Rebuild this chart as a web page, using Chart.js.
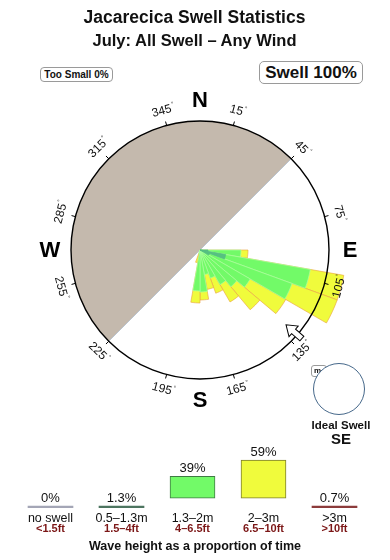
<!DOCTYPE html>
<html>
<head>
<meta charset="utf-8">
<script src="https://cdn.jsdelivr.net/npm/chart.js@4.4.1/dist/chart.umd.min.js"></script>
<style>
  body { margin: 0; width: 390px; height: 560px; position: relative; background: #fff; overflow: hidden;
         font-family: "Liberation Sans", Arial, sans-serif; color: #111; }
  canvas { position: absolute; left: 0; }
  #rosa { top: 0; }
  #leyenda { top: 438px; }
  .txt { position: absolute; white-space: nowrap; font-weight: bold; text-align: center; }
  #titulo { left: 0; width: 389px; top: 9px; font-size: 17.5px; line-height: 17px; }
  #subtitulo { left: 0; width: 389px; top: 33px; font-size: 16.5px; line-height: 15px; }
  .caja { position: absolute; border: 1px solid #9a9a9a; box-sizing: border-box; font-weight: bold; text-align: center; background: #fff; }
  #chico { left: 40px; top: 67px; width: 73px; height: 15px; border-radius: 4px; font-size: 10px; line-height: 13px; }
  #swell { left: 259px; top: 61px; width: 104px; height: 23px; border-radius: 5px; font-size: 17px; line-height: 21px; }
  #etiquetaM { left: 311px; top: 365px; width: 16px; height: 12px; border-radius: 3px; font-size: 8px; line-height: 10px; text-align: left; padding-left: 2px; }
  #ideal { position: absolute; left: 313px; top: 363px; width: 52px; height: 52px; box-sizing: border-box;
           border: 1px solid #46688a; border-radius: 50%; background: #fff; }
  #idealTxt { left: 291px; width: 100px; top: 419px; font-size: 11.5px; line-height: 12px; }
  #idealDir { left: 291px; width: 100px; top: 432px; font-size: 15px; line-height: 14px; }
</style>
</head>
<body>
<canvas id="rosa" width="390" height="560"></canvas>
<canvas id="leyenda" width="390" height="122"></canvas>
<div class="txt" id="titulo">Jacarecica Swell Statistics</div>
<div class="txt" id="subtitulo">July: All Swell – Any Wind</div>
<div class="caja" id="chico">Too Small 0%</div>
<div class="caja" id="swell">Swell 100%</div>
<div class="caja" id="etiquetaM">m</div>
<div id="ideal"></div>
<div class="txt" id="idealTxt">Ideal Swell</div>
<div class="txt" id="idealDir">SE</div>

<script>
// Rumbos de 10 grados (inicio de cada sector)
const rumbos = [0, 10, 20, 30, 40, 50, 60, 70, 80, 90, 100, 110, 120, 130, 140, 150, 160, 170,
                180, 190, 200, 210, 220, 230, 240, 250, 260, 270, 280, 290, 300, 310, 320, 330, 340, 350];
// Largo de cada banda de altura por rumbo
const banda05 = [0, 0, 0, 0, 0, 0, 0, 0, 0, 8, 26, 10, 0, 0, 0, 0, 0, 0,
                 0, 0, 0, 0, 0, 0, 0, 0, 0, 0, 0, 0, 0, 0, 0, 0, 0, 0];
const banda13 = [0, 0, 0, 0, 0, 0, 0, 0, 0, 33, 86, 88, 58, 48, 40, 30, 25, 42,
                 41, 4, 0, 0, 0, 0, 0, 0, 0, 0, 0, 0, 0, 0, 0, 0, 0, 0];
const banda2 = [0, 0, 0, 0, 0, 0, 0, 0, 0, 7, 34, 48, 41, 30, 20, 16, 15, 8,
                12, 9, 0, 0, 0, 0, 0, 0, 0, 0, 0, 0, 0, 0, 0, 0, 0, 0];
const borde = 129;          // radio del circulo de la rosa
const costa = [225, 45];    // sector de tierra
const marcasGrados = [15, 45, 75, 105, 135, 165, 195, 225, 255, 285, 315, 345];
const puntos = ['N', 'E', 'S', 'W'];
const rumboIdeal = 131;

// Leyenda inferior
const alturasM = ['no swell', '0.5–1.3m', '1.3–2m', '2–3m', '>3m'];
const alturasFt = ['<1.5ft', '1.5–4ft', '4–6.5ft', '6.5–10ft', '>10ft'];
const porcentajes = [0, 1.3, 39, 59, 0.7];

const fuente = '"Liberation Sans", Arial, sans-serif';
const rad = g => g * Math.PI / 180;

// acumulados para apilar las bandas
const acum1 = banda05;
const acum2 = banda05.map((v, i) => v + banda13[i]);
const acum3 = acum2.map((v, i) => v + banda2[i]);

const compas = {
    id: 'compas',
    beforeDatasetsDraw(chart) {
        const r = chart.scales.r, ctx = chart.ctx;
        const cx = r.xCenter, cy = r.yCenter, R = r.getDistanceFromCenterForValue(borde);
        ctx.save();
        ctx.beginPath();
        ctx.moveTo(cx, cy);
        ctx.arc(cx, cy, R, rad(costa[0] - 90), rad(costa[1] + 360 - 90));
        ctx.closePath();
        ctx.fillStyle = '#c4b9ad';
        ctx.fill();
        ctx.beginPath();
        ctx.moveTo(cx + R * Math.sin(rad(costa[0])), cy - R * Math.cos(rad(costa[0])));
        ctx.lineTo(cx + R * Math.sin(rad(costa[1])), cy - R * Math.cos(rad(costa[1])));
        ctx.strokeStyle = 'rgba(170,185,205,0.7)';
        ctx.lineWidth = 1;
        ctx.stroke();
        ctx.restore();
    },
    afterDatasetsDraw(chart) {
        const r = chart.scales.r, ctx = chart.ctx;
        const cx = r.xCenter, cy = r.yCenter, R = r.getDistanceFromCenterForValue(borde);
        const pt = (b, d) => [cx + d * Math.sin(rad(b)), cy - d * Math.cos(rad(b))];
        ctx.save();
        // circulo
        ctx.beginPath();
        ctx.arc(cx, cy, R, 0, Math.PI * 2);
        ctx.strokeStyle = '#000';
        ctx.lineWidth = 1.4;
        ctx.stroke();
        // marcas y grados
        ctx.lineWidth = 1;
        marcasGrados.forEach(b => {
            const a = pt(b, R), c = pt(b, R + 4);
            ctx.beginPath();
            ctx.moveTo(a[0], a[1]);
            ctx.lineTo(c[0], c[1]);
            ctx.stroke();
            let rot = b;
            if (b > 90 && b < 270) rot = b - 180;
            else if (b >= 270) rot = b - 360;
            const p = pt(b, R + 15);
            ctx.save();
            ctx.translate(p[0], p[1]);
            ctx.rotate(rad(rot));
            ctx.fillStyle = '#111';
            ctx.font = '12px ' + fuente;
            ctx.textAlign = 'center';
            ctx.textBaseline = 'middle';
            const txt = String(b);
            const w = ctx.measureText(txt).width;
            ctx.fillText(txt, -1, 0);
            ctx.font = '6px ' + fuente;
            ctx.textAlign = 'left';
            ctx.fillText('°', w / 2, -4);
            ctx.restore();
        });
        // puntos cardinales
        ctx.fillStyle = '#000';
        ctx.font = 'bold 22px ' + fuente;
        ctx.textAlign = 'center';
        ctx.textBaseline = 'middle';
        puntos.forEach((p, i) => {
            const q = pt(i * 90, R + 21);
            ctx.fillText(p, q[0], q[1] + 1);
        });
        // flecha del swell ideal
        const f = pt(rumboIdeal, R - 5);
        ctx.translate(f[0], f[1]);
        ctx.rotate(rad(rumboIdeal + 90));
        ctx.beginPath();
        ctx.moveTo(10, 0);
        ctx.lineTo(0, -7);
        ctx.lineTo(0, -3);
        ctx.lineTo(-11, -3);
        ctx.lineTo(-11, 3);
        ctx.lineTo(0, 3);
        ctx.lineTo(0, 7);
        ctx.closePath();
        ctx.fillStyle = '#fff';
        ctx.fill();
        ctx.strokeStyle = '#000';
        ctx.lineWidth = 1;
        ctx.stroke();
        ctx.restore();
    }
};

const anchoBorde = c => (c.raw > 0 ? 0.8 : 0);

new Chart(document.getElementById('rosa'), {
    type: 'polarArea',
    data: {
        labels: rumbos,
        datasets: [
            { label: '0.5–1.3m', data: acum1, backgroundColor: 'rgba(84,190,130,0.95)', borderColor: 'rgba(84,190,130,1)', borderWidth: anchoBorde },
            { label: '1.3–2m', data: acum2, backgroundColor: '#72fa68', borderColor: 'rgba(170,255,160,0.9)', borderWidth: anchoBorde },
            { label: '2–3m', data: acum3, backgroundColor: '#f0fb3c', borderColor: 'rgba(235,165,70,0.8)', borderWidth: anchoBorde }
        ]
    },
    options: {
        responsive: false,
        animation: false,
        events: [],
        layout: { padding: { left: 50, right: 40, top: 100, bottom: 160 } },
        plugins: { legend: { display: false }, tooltip: { enabled: false } },
        scales: {
            r: {
                min: 0, max: 150, startAngle: 0,
                ticks: { display: false },
                grid: { display: false },
                angleLines: { display: false },
                pointLabels: { display: false }
            }
        }
    },
    plugins: [compas]
});

// Leyenda de alturas
const pisoCaja = 12;
const coloresLeyenda = ['#a4a6b6', '#4d7560', '#72fa68', '#f0fb3c', '#8c3b3b'];
const bordesLeyenda = ['#a4a6b6', '#4d7560', '#3f7a44', '#7d7d2c', '#8c3b3b'];

const etiquetas = {
    id: 'etiquetas',
    afterDatasetsDraw(chart) {
        const ctx = chart.ctx, x = chart.scales.x, area = chart.chartArea;
        const barras = chart.getDatasetMeta(0).data;
        ctx.save();
        ctx.textAlign = 'center';
        ctx.textBaseline = 'alphabetic';
        porcentajes.forEach((v, i) => {
            const px = x.getPixelForValue(i);
            ctx.fillStyle = '#111';
            ctx.font = '13px ' + fuente;
            ctx.fillText(v + '%', px, barras[i].y - 4);
            ctx.font = '12.5px ' + fuente;
            ctx.fillText(alturasM[i], px, area.bottom + 14);
            ctx.fillStyle = '#7b1616';
            ctx.font = 'bold 11px ' + fuente;
            ctx.fillText(alturasFt[i], px, area.bottom + 24);
        });
        ctx.fillStyle = '#111';
        ctx.font = 'bold 12.5px ' + fuente;
        ctx.fillText('Wave height as a proportion of time', 195, area.bottom + 42);
        ctx.restore();
    }
};

new Chart(document.getElementById('leyenda'), {
    type: 'bar',
    data: {
        labels: alturasM,
        datasets: [{
            data: porcentajes.map(v => (v > pisoCaja ? [pisoCaja, v] : [0, v])),
            backgroundColor: coloresLeyenda,
            borderColor: bordesLeyenda,
            borderWidth: c => (porcentajes[c.dataIndex] > pisoCaja ? 1 : 0),
            borderSkipped: false,
            barThickness: 45,
            minBarLength: 2
        }]
    },
    options: {
        responsive: false,
        animation: false,
        events: [],
        layout: { padding: { left: 15, right: 20, top: 0, bottom: 52 } },
        plugins: { legend: { display: false }, tooltip: { enabled: false } },
        scales: {
            x: { display: false },
            y: { display: false, min: 0, max: 86 }
        }
    },
    plugins: [etiquetas]
});
</script>
</body>
</html>
